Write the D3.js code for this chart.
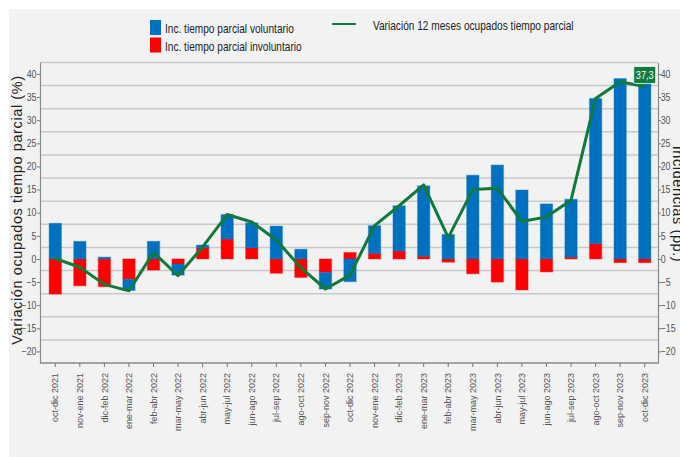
<!DOCTYPE html>
<html lang="es">
<head>
<meta charset="utf-8">
<title>Ocupados tiempo parcial</title>
<script src="https://d3js.org/d3.v7.min.js"></script>
<style>
  body { margin: 0; background: #fff; }
  svg text { font-family: "Liberation Sans", Arial, sans-serif; }
</style>
</head>
<body>
<div id="chart"></div>
<script>
// trimestres moviles
var periodos = ["oct-dic 2021","nov-ene 2021","dic-feb 2022","ene-mar 2022","feb-abr 2022","mar-may 2022",
  "abr-jun 2022","may-jul 2022","jun-ago 2022","jul-sep 2022","ago-oct 2022","sep-nov 2022","oct-dic 2022",
  "nov-ene 2022","dic-feb 2023","ene-mar 2023","feb-abr 2023","mar-may 2023","abr-jun 2023","may-jul 2023",
  "jun-ago 2023","jul-sep 2023","ago-oct 2023","sep-nov 2023","oct-dic 2023"];

// incidencias (pp.)
var voluntario = [7.7, 3.8, 0.4, -2.4, 3.8, -2.4, 0.6, 5.3, 5.4, 7.1, 2.1, -3.6, -4.9,
  6.0, 9.8, 15.2, 5.3, 18.1, 20.3, 14.9, 11.9, 12.5, 31.4, 39.0, 38.1];
var involuntario = [-7.6, -5.8, -6.0, -4.4, -2.4, -1.1, 2.4, 4.3, 2.4, -3.1, -4.0, -2.9, 1.4,
  1.2, 1.7, 0.6, -0.7, -3.2, -5.0, -6.7, -2.8, 0.4, 3.3, -0.8, -0.8];

// variacion 12 meses (%)
var variacion = [0.1, -1.8, -5.5, -6.9, 1.4, -3.6, 2.6, 9.6, 8.0, 4.1, -1.9, -6.5, -3.5,
  7.2, 11.5, 16.0, 4.6, 15.0, 15.3, 8.1, 9.1, 12.7, 34.7, 38.3, 37.3];

var yTicks = [-20, -15, -10, -5, 0, 5, 10, 15, 20, 25, 30, 35, 40];
var gridVals = [-17.5, -12.5, -7.5, -2.5, 2.5, 7.5, 12.5, 17.5, 22.5, 27.5, 32.5, 37.5, 42.5];

var width = 680, height = 457,
    plotLeft = 40, plotRight = 658, plotTop = 62.4, plotBottom = 363;

var colVol = "#0070c0", colInv = "#ff0000", colLine = "#107a3a", bg = "#f2f2f2";

var svg = d3.select("#chart").append("svg")
  .attr("width", width)
  .attr("height", height);

svg.append("rect")
  .attr("x", 9).attr("y", 9)
  .attr("width", width - 9).attr("height", height - 9)
  .attr("fill", bg);

var x = d3.scaleBand().domain(periodos).range([43, 657]).padding(0);
var y = d3.scaleLinear().domain([-22.5, 42.5]).range([plotBottom, plotTop]);

// gridlines
svg.append("g").selectAll("line")
  .data(gridVals)
  .join("line")
  .attr("x1", plotLeft).attr("x2", plotRight)
  .attr("y1", d => y(d)).attr("y2", d => y(d))
  .attr("stroke", "#c9c9c9")
  .attr("stroke-width", 1.5);

// stacked bars (involuntario closest to zero)
var rows = periodos.map((p, i) => ({ periodo: p, inv: involuntario[i], vol: voluntario[i] }));
var series = d3.stack().keys(["inv", "vol"]).offset(d3.stackOffsetDiverging)(rows);
var colors = { inv: colInv, vol: colVol };
var bw = x.bandwidth() * 0.5;

svg.append("g").selectAll("g")
  .data(series)
  .join("g")
  .attr("fill", d => colors[d.key])
  .attr("stroke", d => colors[d.key])
  .attr("stroke-opacity", 0.35)
  .attr("stroke-width", 1.2)
  .selectAll("rect")
  .data(d => d)
  .join("rect")
  .attr("x", d => x(d.data.periodo) + (x.bandwidth() - bw) / 2)
  .attr("width", bw)
  .attr("y", d => y(Math.max(d[0], d[1])))
  .attr("height", d => Math.abs(y(d[0]) - y(d[1])));

// line
var line = d3.line()
  .x((d, i) => x(periodos[i]) + x.bandwidth() / 2)
  .y(d => y(d));

svg.append("path")
  .datum(variacion)
  .attr("d", line)
  .attr("fill", "none")
  .attr("stroke", colLine)
  .attr("stroke-width", 3)
  .attr("stroke-linejoin", "round")
  .attr("stroke-linecap", "round");

// last value label
var lastI = variacion.length - 1,
    lx = x(periodos[lastI]) + x.bandwidth() / 2,
    ly = y(variacion[lastI]);
svg.append("rect")
  .attr("x", lx - 11).attr("y", ly - 20)
  .attr("width", 22).attr("height", 17)
  .attr("rx", 1.5)
  .attr("fill", colLine)
  .attr("stroke", "#fff").attr("stroke-width", 0.8);
svg.append("text")
  .attr("transform", `translate(${lx},${ly - 7.5}) scale(0.8,1)`)
  .attr("text-anchor", "middle")
  .attr("fill", "#fff")
  .attr("font-size", 11.5)
  .text(String(variacion[lastI]).replace(".", ","));

// axes
var yLeft = d3.axisLeft(y).tickValues(yTicks).tickSize(3).tickSizeOuter(0).tickPadding(1);
var yRight = d3.axisRight(y).tickValues(yTicks).tickSize(3).tickSizeOuter(0).tickPadding(0);

function styleAxis(g) {
  g.select(".domain").attr("stroke", "#8a8a8a").attr("stroke-width", 1.2);
  g.selectAll(".tick line").attr("stroke", "#777");
  g.selectAll(".tick text")
    .attr("fill", "#555")
    .attr("font-size", 10)
    .attr("font-family", null);
}

svg.append("g")
  .attr("transform", `translate(${plotLeft},0)`)
  .call(yLeft)
  .call(styleAxis)
  .selectAll(".tick text").attr("transform", "scale(0.88,1)");

svg.append("g")
  .attr("transform", `translate(${plotRight},0)`)
  .call(yRight)
  .call(styleAxis)
  .selectAll(".tick text").attr("transform", "scale(0.88,1)");

// bottom frame line + category labels
svg.append("line")
  .attr("x1", plotLeft).attr("x2", plotRight)
  .attr("y1", plotBottom).attr("y2", plotBottom)
  .attr("stroke", "#8a8a8a").attr("stroke-width", 1.5);

var xAxis = d3.axisBottom(x).tickSize(4).tickSizeOuter(0);
svg.append("g")
  .attr("transform", `translate(0,${plotBottom})`)
  .call(xAxis)
  .call(g => g.select(".domain").remove())
  .call(g => g.selectAll(".tick line").attr("stroke", "#777"))
  .selectAll(".tick text")
  .attr("font-family", null)
  .attr("font-size", 9)
  .attr("fill", "#555")
  .attr("text-anchor", "end")
  .attr("transform", "rotate(-90)")
  .attr("x", -10)
  .attr("y", 0)
  .attr("dy", "0.35em");

// axis titles
svg.append("text")
  .attr("transform", "translate(22,210) rotate(-90)")
  .attr("text-anchor", "middle")
  .attr("font-size", 14.5)
  .attr("letter-spacing", 0.6)
  .attr("fill", "#222")
  .text("Variación ocupados tiempo parcial (%)");

svg.append("text")
  .attr("transform", "translate(673,204) rotate(90)")
  .attr("text-anchor", "middle")
  .attr("font-size", 14.5)
  .attr("letter-spacing", 0.6)
  .attr("fill", "#222")
  .text("Incidencias (pp.)");

// legend
var legend = svg.append("g");
var legItems = [
  { label: "Inc. tiempo parcial voluntario", color: colVol, y: 20 },
  { label: "Inc. tiempo parcial involuntario", color: colInv, y: 37.5 }
];
legend.selectAll("rect")
  .data(legItems)
  .join("rect")
  .attr("x", 150).attr("y", d => d.y)
  .attr("width", 11).attr("height", 15)
  .attr("fill", d => d.color);
legend.selectAll("text.bar")
  .data(legItems)
  .join("text")
  .attr("class", "bar")
  .attr("transform", d => `translate(165,${d.y + 13}) scale(0.75,1)`)
  .attr("font-size", 13.5)
  .attr("fill", "#222")
  .text(d => d.label);

legend.append("line")
  .attr("x1", 332).attr("x2", 356)
  .attr("y1", 24).attr("y2", 24)
  .attr("stroke", colLine).attr("stroke-width", 2);
legend.append("text")
  .attr("transform", "translate(373,30) scale(0.75,1)")
  .attr("font-size", 13.5)
  .attr("fill", "#222")
  .text("Variación 12 meses ocupados tiempo parcial");
</script>
</body>
</html>
